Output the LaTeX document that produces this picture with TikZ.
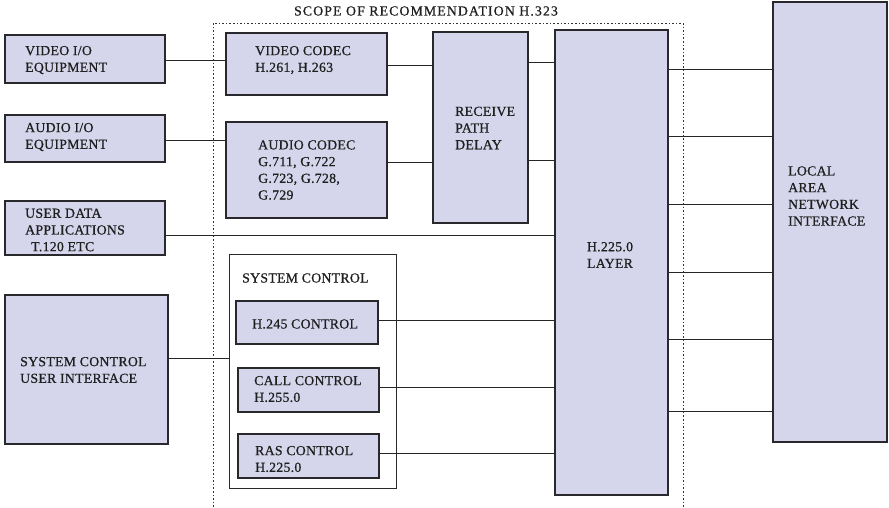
\documentclass[tikz,border=0pt]{standalone}
\usepackage{fontspec}
\setmainfont{Liberation Serif}
\newfontfamily\dfont{Liberation Serif}[FakeBold=0.7,LetterSpace=2]
\usetikzlibrary{fit}
\definecolor{boxfill}{RGB}{213,214,236}
\definecolor{edge}{RGB}{40,40,45}
\begin{document}
\begin{tikzpicture}[x=1pt,y=-1pt,
  box/.style={draw=edge,line width=1.3pt,fill=boxfill,inner sep=0pt},
  frame/.style={draw=edge,line width=0.9pt,inner sep=0pt},
  txt/.style={font=\dfont\fontsize{13.8}{16.7}\selectfont,text=black!88,align=left,inner sep=0pt,anchor=west},
  conn/.style={draw=black!85,line width=0.9pt},
  scope/.style={draw=black!80,line width=1pt,dash pattern=on 1.6pt off 2pt}]
\useasboundingbox (0,0) rectangle (889,507);
% scope of recommendation
\draw[scope] (213,507) -- (213,23) -- (683,23) -- (683,507);
\node[txt,anchor=center] (title) at (426,11) {\addfontfeature{LetterSpace=8}SCOPE OF RECOMMENDATION H.323};
% boxes
\node[box,fit={(5,35) (165,83)}] (vio) {};
\node[box,fit={(5,115) (165,162)}] (aio) {};
\node[box,fit={(5,201) (165,255)}] (udata) {};
\node[box,fit={(5,295) (168,444)}] (scui) {};
\node[box,fit={(226,33) (387,95)}] (vcodec) {};
\node[box,fit={(226,122) (387,218)}] (acodec) {};
\node[box,fit={(433,32) (528,223)}] (rpd) {};
\node[box,fit={(555,30) (668,495)}] (h225) {};
\node[box,fit={(773,2) (887,442)}] (lan) {};
\node[frame,fit={(229,254) (396,488)}] (sysctl) {};
\node[box,fit={(236,301) (378,344)}] (h245) {};
\node[box,fit={(238,368) (379,412)}] (call) {};
\node[box,fit={(238,434) (379,478)}] (ras) {};
% texts
\node[txt] (t-vio) at (25,60) {VIDEO I/O\\EQUIPMENT};
\node[txt] (t-aio) at (25,137) {AUDIO I/O\\EQUIPMENT};
\node[txt] (t-udata) at (25,230) {USER DATA\\APPLICATIONS\\\hspace*{6pt}T.120 ETC};
\node[txt] (t-scui) at (20,370) {SYSTEM CONTROL\\USER INTERFACE};
\node[txt] (t-vcodec) at (255,60) {VIDEO CODEC\\H.261, H.263};
\node[txt] (t-acodec) at (258,170) {AUDIO CODEC\\G.711, G.722\\G.723, G.728,\\G.729};
\node[txt] (t-sysctl) at (242,278) {SYSTEM CONTROL};
\node[txt] (t-h245) at (252,324) {H.245 CONTROL};
\node[txt] (t-call) at (254,389) {CALL CONTROL\\H.255.0};
\node[txt] (t-ras) at (255,459) {RAS CONTROL\\H.225.0};
\node[txt] (t-rpd) at (455,128) {RECEIVE\\PATH\\DELAY};
\node[txt] (t-lan) at (788,196) {LOCAL\\AREA\\NETWORK\\INTERFACE};
\node[txt,anchor=center,align=center] (t-h225) at (610,255) {H.225.0\\LAYER};
% connectors
\draw[conn] (vio.east |- 0,60) -- (vcodec.west |- 0,60);
\draw[conn] (aio.east |- 0,140) -- (acodec.west |- 0,140);
\draw[conn] (udata.east |- 0,235) -- (h225.west |- 0,235);
\draw[conn] (scui.east |- 0,358) -- (sysctl.west |- 0,358);
\draw[conn] (vcodec.east |- 0,65) -- (rpd.west |- 0,65);
\draw[conn] (acodec.east |- 0,162) -- (rpd.west |- 0,162);
\draw[conn] (rpd.east |- 0,62) -- (h225.west |- 0,62);
\draw[conn] (rpd.east |- 0,160) -- (h225.west |- 0,160);
\draw[conn] (h245.east |- 0,320) -- (h225.west |- 0,320);
\draw[conn] (call.east |- 0,387) -- (h225.west |- 0,387);
\draw[conn] (ras.east |- 0,453) -- (h225.west |- 0,453);
\foreach \yy in {69,136,204,272,339,411}
  \draw[conn] (h225.east |- 0,\yy) -- (lan.west |- 0,\yy);
\end{tikzpicture}
\end{document}
